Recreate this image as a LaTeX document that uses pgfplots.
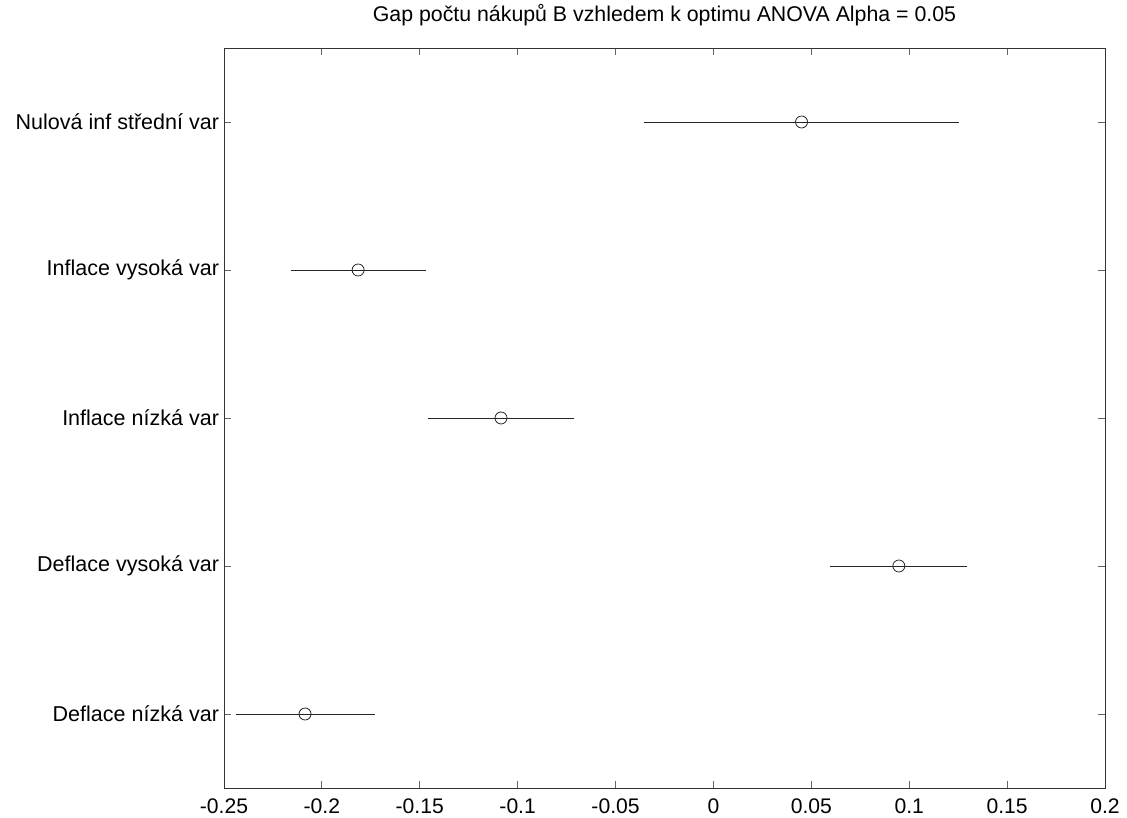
\documentclass[border=0pt]{standalone}
\usepackage{fontspec}
\setmainfont{Liberation Sans}
\usepackage{pgfplots}
\pgfplotsset{compat=1.18}

\begin{document}
\begin{tikzpicture}
\begin{axis}[
  scale only axis,
  width=440.5bp, height=370bp,
  xmin=-0.25, xmax=0.2,
  ymin=0.5, ymax=5.5,
  xtick={-0.25,-0.2,-0.15,-0.1,-0.05,0,0.05,0.1,0.15,0.2},
  xticklabels={-0.25,-0.2,-0.15,-0.1,-0.05,0,0.05,0.1,0.15,0.2},
  ytick={1,2,3,4,5},
  yticklabels={Deflace nízká var,Deflace vysoká var,Inflace nízká var,Inflace vysoká var,Nulová inf střední var},
  tick align=inside,
  tick pos=both,
  major tick length=3.5bp,
  tick style={black!60, thin},
  axis line style={black!80},
  xticklabel style={font=\fontsize{10.6}{12}\selectfont, yshift=-2bp},
  yticklabel style={font=\fontsize{10.8}{12}\selectfont, xshift=1bp},
]
\addplot[black!85, thin, only marks, mark=o, mark size=3bp,
  error bars/.cd, x dir=both, x explicit, error mark=none,
  error bar style={black!85, thin}]
  coordinates {
    (-0.2086,1) +- (0.0355,0)
    (0.0947,2) +- (0.035,0)
    (-0.1085,3) +- (0.0375,0)
    (-0.1815,4) +- (0.0345,0)
    (0.045,5) +- (0.0805,0)
  };
\coordinate (sw) at (rel axis cs:0,0);
\coordinate (ne) at (rel axis cs:1,1);
\coordinate (tc) at (rel axis cs:0.5,1);
\end{axis}
\node[font=\fontsize{10.7}{12}\selectfont] at ([yshift=16.5bp]tc)
  {Gap počtu nákupů B vzhledem k optimu ANOVA Alpha = 0.05};
\pgfresetboundingbox
\path[use as bounding box] ([xshift=-112bp,yshift=-15bp]sw) rectangle ([xshift=11bp,yshift=24bp]ne);
\end{tikzpicture}
\end{document}
